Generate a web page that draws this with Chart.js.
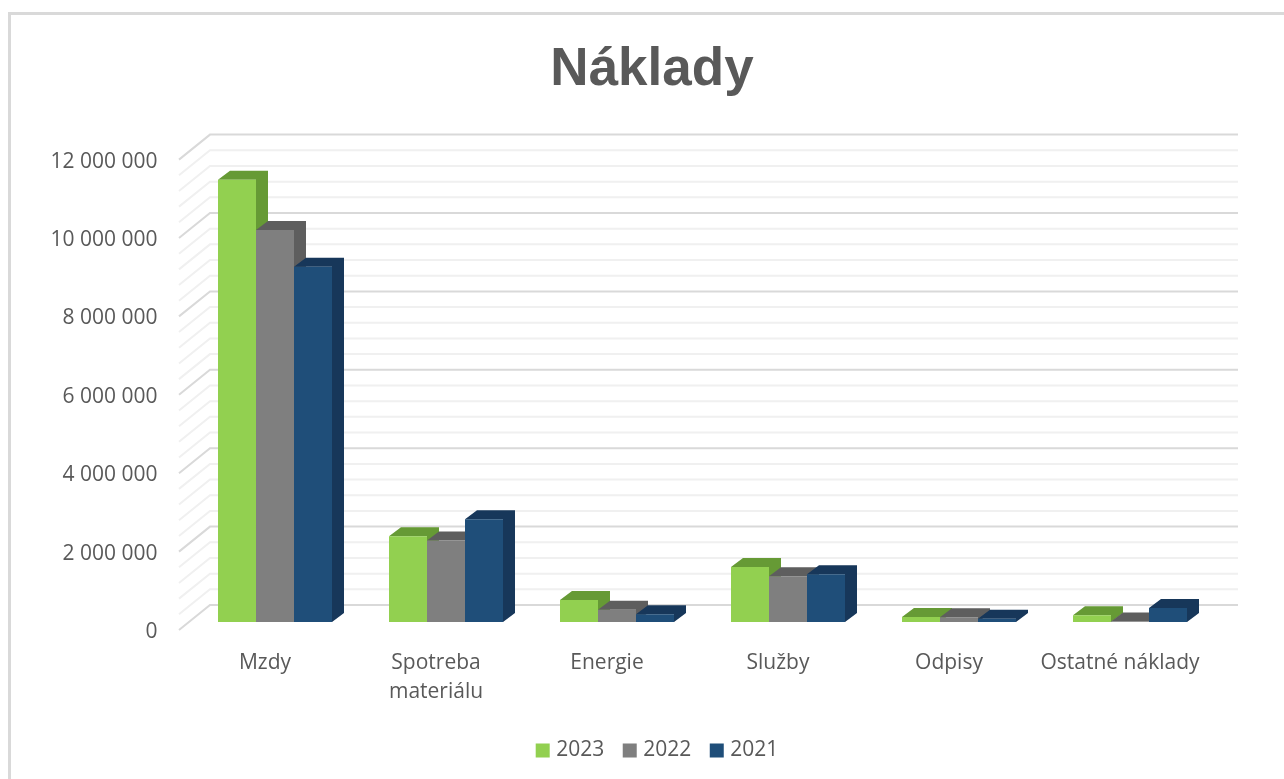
<!DOCTYPE html>
<html>
<head>
<meta charset="utf-8">
<title>Náklady</title>
<script src="https://cdn.jsdelivr.net/npm/chart.js@4"></script>
<style>
    html, body { margin: 0; padding: 0; background: #fff; }
    #frame { position: absolute; left: 8px; top: 12px; width: 1276px; height: 767px; border-left: 3px solid #d9d9d9; border-top: 3px solid #d9d9d9; box-sizing: border-box; }
    canvas { position: absolute; left: 0; top: 0; }
</style>
</head>
<body>
<div id="frame"></div>
<canvas id="naklady" width="1284" height="779"></canvas>
<script>
const categories = ['Mzdy', ['Spotreba', 'materiálu'], 'Energie', 'Služby', 'Odpisy', 'Ostatné náklady'];
const values2023 = [11280000, 2190000, 560000, 1400000, 130000, 170000];
const values2022 = [10000000, 2080000, 310000, 1170000, 120000, 10000];
const values2021 = [9060000, 2620000, 200000, 1220000, 80000, 360000];
const frontColors = ['#92d050', '#7f7f7f', '#1f4e79'];
const sideColors = ['#669a35', '#5e5e5e', '#17375a'];

// 3D look: walls behind the bars, then the top and side of each bar
const walls = {
    id: 'walls',
    afterLayout(chart) {
        // y labels are wider than the axis box, stop them being clipped
        chart.scales.y.left = 0;
        // legend sits a little right of the title centre
        chart.legend.left += 7;
        chart.legend.right += 7;
    },
    beforeDatasetsDraw(chart) {
        const ctx = chart.ctx;
        const y = chart.scales.y;
        ctx.save();
        for (let v = 0; v <= 12000000; v += 400000) {
            const p = y.getPixelForValue(v);
            const major = v % 2000000 === 0;
            ctx.strokeStyle = major ? '#d9d9d9' : '#f0f0f0';
            ctx.lineWidth = 2;
            ctx.beginPath();
            ctx.moveTo(179, p + 8);
            ctx.lineTo(210, p - 17);
            ctx.lineTo(1238, p - 17);
            ctx.stroke();
        }
        chart.data.datasets.forEach((ds, i) => {
            const base = y.getPixelForValue(0);
            chart.getDatasetMeta(i).data.forEach(bar => {
                const left = bar.x - bar.width / 2;
                const right = bar.x + bar.width / 2;
                ctx.fillStyle = sideColors[i];
                ctx.beginPath();
                ctx.moveTo(left, bar.y);
                ctx.lineTo(left + 12, bar.y - 9);
                ctx.lineTo(right + 12, bar.y - 9);
                ctx.lineTo(right + 12, base - 9);
                ctx.lineTo(right, base);
                ctx.lineTo(right, bar.y);
                ctx.closePath();
                ctx.fill();
            });
        });
        ctx.restore();
    }
};

new Chart(document.getElementById('naklady'), {
    type: 'bar',
    plugins: [walls],
    data: {
        labels: categories,
        datasets: [
            { label: '2023', data: values2023, backgroundColor: frontColors[0] },
            { label: '2022', data: values2022, backgroundColor: frontColors[1] },
            { label: '2021', data: values2021, backgroundColor: frontColors[2] }
        ]
    },
    options: {
        responsive: false,
        animation: false,
        categoryPercentage: 0.6667,
        barPercentage: 1,
        layout: { padding: { left: 88.5, right: 68.5, top: 14, bottom: 8 } },
        plugins: {
            title: {
                display: true,
                text: 'Náklady',
                color: '#595959',
                font: { family: 'Liberation Sans', size: 53, weight: 'bold' },
                padding: { top: 25, bottom: 49 }
            },
            legend: {
                position: 'bottom',
                labels: {
                    color: '#595959',
                    font: { family: 'Open Sans', size: 21 },
                    usePointStyle: true,
                    pointStyle: 'rect',
                    boxWidth: 6,
                    boxHeight: 14,
                    padding: 22.5
                }
            },
            tooltip: { enabled: false }
        },
        scales: {
            x: {
                grid: { display: false },
                border: { display: false },
                afterFit(scale) { scale.height = 95.5; },
                ticks: {
                    color: '#595959',
                    font: { family: 'Open Sans', size: 21, lineHeight: 1.38 },
                    labelOffset: -10,
                    maxRotation: 0,
                    padding: 19
                }
            },
            y: {
                min: 0,
                max: 12000000,
                grid: { display: false },
                border: { display: false },
                afterFit(scale) { scale.width = 101; },
                ticks: {
                    stepSize: 2000000,
                    color: '#595959',
                    font: { family: 'Open Sans', size: 21 },
                    labelOffset: 10,
                    padding: 24,
                    callback: v => String(v).replace(/\B(?=(\d{3})+$)/g, ' ')
                }
            }
        }
    }
});
</script>
</body>
</html>
